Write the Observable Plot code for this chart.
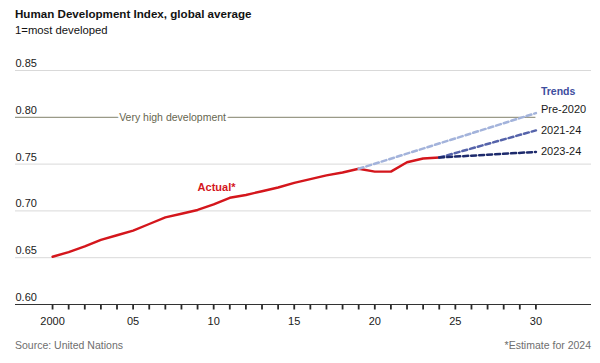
<!DOCTYPE html>
<html>
<head>
<meta charset="utf-8">
<script src="https://cdn.jsdelivr.net/npm/d3@7"></script>
<script src="https://cdn.jsdelivr.net/npm/@observablehq/plot@0.6"></script>
<style>
  html, body { margin: 0; padding: 0; background: #fff; }
  body { width: 600px; height: 363px; position: relative; overflow: hidden;
         font-family: "Liberation Sans", Arial, sans-serif; color: #121212; }
  #title { position: absolute; left: 15px; top: 7px; font-size: 11.6px; font-weight: bold; }
  #subtitle { position: absolute; left: 15px; top: 24px; font-size: 11.3px; }
  #chart { position: absolute; left: 0; top: 44px; }
  #source { position: absolute; left: 15px; top: 339px; font-size: 10.5px; color: #6e6e6e; }
  #note { position: absolute; right: 9px; top: 339px; font-size: 10.5px; color: #6e6e6e; }
</style>
</head>
<body>
<div id="title">Human Development Index, global average</div>
<div id="subtitle">1=most developed</div>
<div id="chart"></div>
<div id="source">Source: United Nations</div>
<div id="note">*Estimate for 2024</div>
<script>
// ---- data ----
const years = [2000, 2001, 2002, 2003, 2004, 2005, 2006, 2007, 2008, 2009, 2010, 2011, 2012,
               2013, 2014, 2015, 2016, 2017, 2018, 2019, 2020, 2021, 2022, 2023, 2024];
const actualValues = [0.651, 0.656, 0.662, 0.669, 0.674, 0.679, 0.686, 0.693, 0.697, 0.701, 0.707, 0.714, 0.717,
                      0.721, 0.725, 0.730, 0.734, 0.738, 0.741, 0.745, 0.742, 0.742, 0.752, 0.756, 0.757];
const trendNames = ["Pre-2020", "2021-24", "2023-24"];
const trendStartYears = [2019, 2024, 2024];
const trendStartValues = [0.745, 0.757, 0.757];
const trendEndYears = [2030, 2030, 2030];
const trendEndValues = [0.8045, 0.786, 0.763];
const yTicks = [0.60, 0.65, 0.70, 0.75, 0.80, 0.85];
const gridValues = [0.65, 0.70, 0.75, 0.85];
const xTicks = d3.range(2000, 2031);
const veryHighLevel = 0.80;
const veryHighLabel = "Very high development";
const actualLabel = "Actual*";
const trendsTitle = "Trends";

// ---- build tables ----
const actual = years.map((year, i) => ({year, value: actualValues[i]}));
const trendRows = trendNames.flatMap((series, i) => [
  {series, year: trendStartYears[i], value: trendStartValues[i]},
  {series, year: trendEndYears[i], value: trendEndValues[i]}
]);
const trendEnds = trendNames.map((series, i) => ({series, year: trendEndYears[i], value: trendEndValues[i]}));

const xDomain = [1997.7, 2033.45];
const yDomain = [0.60, 0.85];
const trendColors = ["#a3b3db", "#5563aa", "#1d2a6c"];
const red = "#d4161c";
const labelDy = [-4, 0, 0];

const chart = Plot.plot({
  width: 600,
  height: 290,
  marginLeft: 15,
  marginRight: 9,
  marginTop: 26,
  marginBottom: 30,
  style: {fontFamily: '"Liberation Sans", Arial, sans-serif', fontSize: "11px", color: "#1a1a1a", background: "#fff"},
  x: {domain: xDomain},
  y: {domain: yDomain},
  marks: [
    Plot.gridY(gridValues, {stroke: "#d9d9d9", strokeOpacity: 1, strokeWidth: 1}),
    Plot.ruleY([veryHighLevel], {x1: xDomain[0], x2: 2030, stroke: "#9a9a88", strokeWidth: 1.2}),
    Plot.text([veryHighLabel], {x: 2007.45, y: veryHighLevel, text: d => d, fill: "#66664f",
      stroke: "#fff", strokeWidth: 5, fontSize: 10.5}),
    Plot.axisY({ticks: yTicks, tickSize: 0, tickPadding: 3, textAnchor: "start", dx: 3, dy: -7,
      tickFormat: d3.format(".2f"), label: null, fontSize: 11, fill: "#1a1a1a"}),
    Plot.axisX({ticks: xTicks, tickSize: 5.5, tickPadding: 7, label: null, fontSize: 11,
      stroke: "#2a2a2a", strokeWidth: 1.8, strokeOpacity: 1,
      tickFormat: d => d % 5 === 0 ? (d === 2000 ? "2000" : String(d % 100).padStart(2, "0")) : ""}),
    Plot.ruleY([yDomain[0]], {stroke: "#333", strokeWidth: 1.2}),
    Plot.line(actual, {x: "year", y: "value", stroke: red, strokeWidth: 2.4, strokeLinejoin: "round"}),
    ...trendNames.map((name, i) => Plot.line(trendRows.filter(d => d.series === name),
      {x: "year", y: "value", stroke: trendColors[i], strokeWidth: 2.5, strokeDasharray: "5,3"})),
    ...trendEnds.map((d, i) => Plot.text([d], {x: "year", y: "value", text: "series", textAnchor: "start",
      dx: 5, dy: labelDy[i], fontSize: 11, fill: "#1a1a1a"})),
    Plot.text([trendEnds[0]], {x: "year", y: "value", text: () => trendsTitle, textAnchor: "start",
      dx: 5, dy: -21, fontSize: 10.5, fontWeight: "bold", fill: "#3e4e9e"}),
    Plot.text([actualLabel], {x: 2009, y: 0.725, text: d => d, textAnchor: "start", fontSize: 11,
      fontWeight: "bold", fill: red})
  ]
});
document.getElementById("chart").appendChild(chart);
</script>
</body>
</html>
